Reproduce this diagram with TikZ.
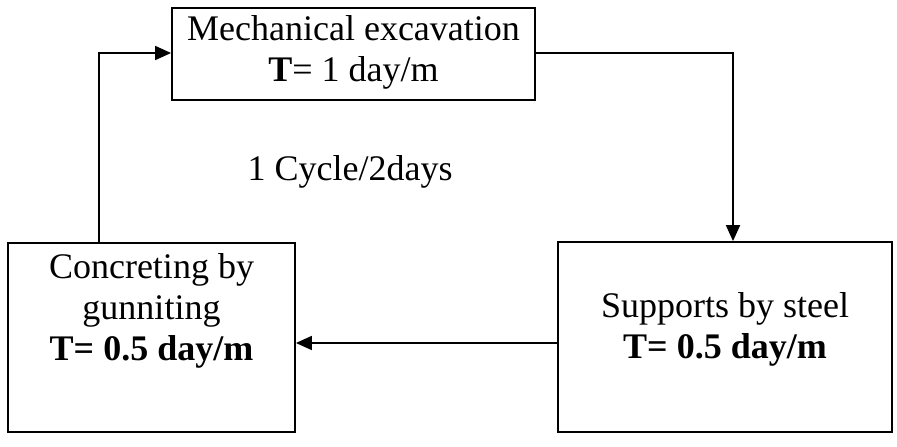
\documentclass[tikz,border=0pt]{standalone}
\usepackage{fontspec}
\setmainfont{Liberation Serif}
\usetikzlibrary{arrows.meta,calc}
\begin{document}
\begin{tikzpicture}[x=1pt,y=-1pt,
  box/.style={draw, line width=1.8pt, rectangle, inner sep=0pt},
  lbl/.style={align=center, inner sep=0pt, font=\fontsize{36}{41}\selectfont},
  arr/.style={line width=1.8pt, -{Triangle[length=16pt,width=14pt]}}]
\useasboundingbox (0,0) rectangle (897,447);
\node[box, minimum width=363pt, minimum height=92pt] (top) at (353.5,54) {};
\node[box, minimum width=287pt, minimum height=189pt] (left) at (151.5,337.5) {};
\node[box, minimum width=334pt, minimum height=190pt] (right) at (725,337) {};
\node[lbl] (toptxt) at (353.5,52) {Mechanical excavation\\\textbf{T}= 1 day/m};
\node[lbl, anchor=north] (lefttxt) at (151.5,253) {Concreting by\\gunniting\\\textbf{T= 0.5 day/m}};
\node[lbl] (righttxt) at (725,329) {Supports by steel\\\textbf{T= 0.5 day/m}};
\node[lbl] (cycle) at (350,172) {1 Cycle/2days};
\coordinate (a1) at ($(left.north west)+(92,0)$);
\coordinate (a2) at ($(right.north)+(8,0)$);
\coordinate (a3) at ($(right.west)+(0,6)$);
\draw[arr] (a1) |- ($(top.west)+(0,-1)$);
\draw[arr] ($(top.east)+(0,-1)$) -| (a2);
\draw[arr] (a3) -- (a3 -| left.east);
\end{tikzpicture}
\end{document}
